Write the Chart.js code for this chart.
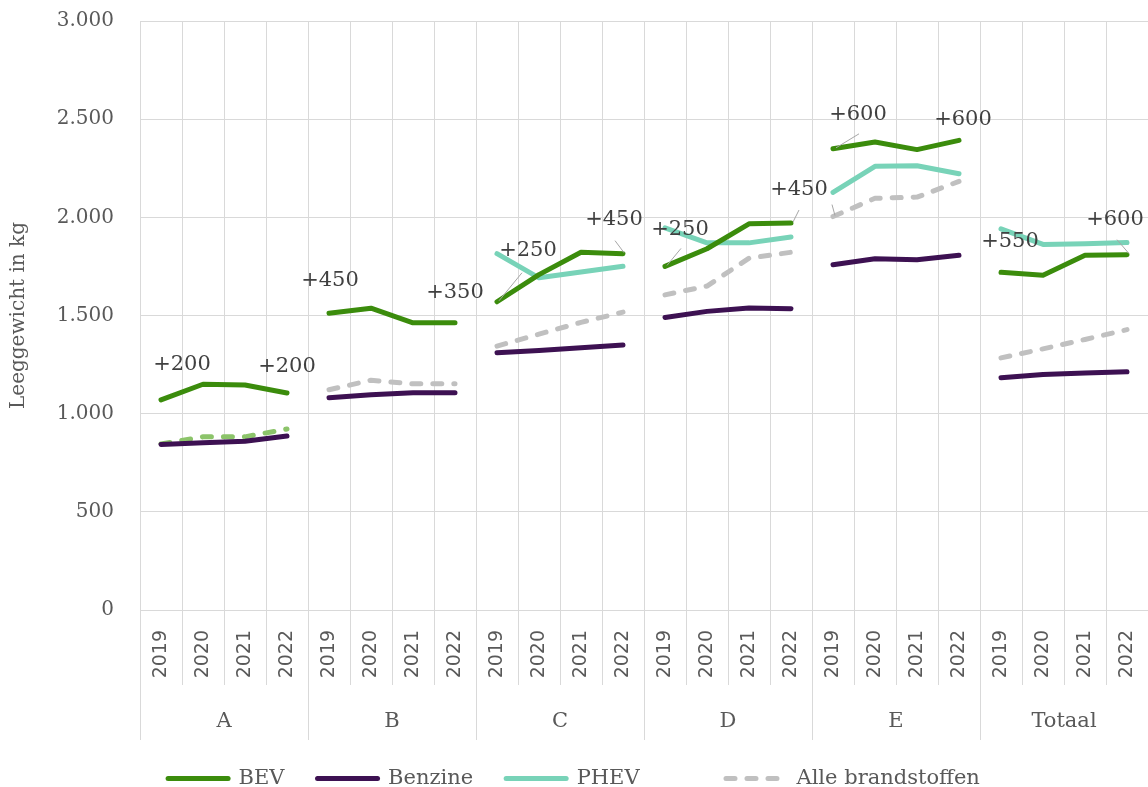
<!DOCTYPE html>
<html>
<head>
<meta charset="utf-8">
<script src="https://cdn.jsdelivr.net/npm/chart.js@4.4.1/dist/chart.umd.min.js"></script>
<style>
html,body{margin:0;padding:0;background:#fff;}
canvas{display:block;}
</style>
</head>
<body>
<canvas id="c" width="1148" height="787"></canvas>
<script>
// ---- data ----
const groups = ['A', 'B', 'C', 'D', 'E', 'Totaal'];
const years = ['2019', '2020', '2021', '2022'];

//              A                         B                         C                         D                         E                         Totaal
const bev =     [1070, 1150, 1146, 1105,  1512, 1537, 1463, 1463,  1570, 1708, 1822, 1815,  1750, 1840, 1967, 1971,  2349, 2384, 2345, 2392,  1720, 1705, 1807, 1810];
const benzine = [ 843,  852,  860,  886,  1081, 1096, 1106, 1106,  1310, 1322, 1336, 1350,  1490, 1521, 1538, 1534,  1759, 1789, 1784, 1807,  1183, 1200, 1207, 1213];
const phev =    [null, null, null, null,  null, null, null, null,  1815, 1692, 1722, 1751,  1946, 1870, 1870, 1900,  2127, 2260, 2263, 2222,  1941, 1862, 1865, 1872];
const alle =    [ 846,  882,  882,  922,  1122, 1170, 1152, 1152,  1344, 1405, 1465, 1517,  1605, 1650, 1792, 1822,  2004, 2097, 2103, 2183,  1284, 1330, 1378, 1428];

const seriesNames = ['BEV', 'Benzine', 'PHEV', 'Alle brandstoffen'];

// change labels (BEV), attached to BEV points by index
const changeTexts   = ['+200', '+200', '+450', '+350', '+250', '+450', '+250', '+450', '+600', '+600', '+550', '+600'];
const changeIndices = [0, 3, 4, 7, 8, 11, 12, 15, 16, 19, 20, 23];

// ---- styling / layout (not data) ----
const labelOffsets = [
  {dx: 21, dy: -35},
  {dx: 0, dy: -27},
  {dx: 1, dy: -33},
  {dx: 0, dy: -30},
  {dx: 31, dy: -51, leader: [25, -29, 2, -1]},
  {dx: -9, dy: -34, leader: [-8, -13, 1, -1]},
  {dx: 15, dy: -37, leader: [16, -18, 2, -1]},
  {dx: 8, dy: -33, leader: [8, -13, 2, -1]},
  {dx: 25, dy: -34, leader: [26, -15, 3, -1]},
  {dx: 4, dy: -21},
  {dx: 9, dy: -31},
  {dx: -12, dy: -35, leader: [-10, -15, 2, -1]}
];
const extraLeaders = [{ds: 3, idx: 16, leader: [-1, -12, 2, -1]}];

const colors = ['#3b8c0c', '#3d1152', '#78d3b8', '#c0c0c0'];
const alleGroupAColor = '#8cc46a';
const dashPattern = [9, 12];
// extra legend spacing after an item (Excel left a gap where a hidden entry was removed)
const legendTrailingGap = ['', '', '\u00a0'.repeat(8), ''];

const labels = groups.flatMap(() => years);
const perGroup = years.length;

Chart.defaults.font.family = '"DejaVu Serif", serif';
Chart.defaults.color = '#595959';

function breakSeg(ctx, normal) {
  if (ctx.p0DataIndex % perGroup === perGroup - 1) return 'rgba(0,0,0,0)';
  return normal;
}

function makeDataset(i, data, extra) {
  return Object.assign({
    label: seriesNames[i],
    data: data,
    borderColor: colors[i],
    backgroundColor: colors[i],
    borderWidth: 5,
    borderCapStyle: 'round',
    borderJoinStyle: 'round',
    pointRadius: 0,
    pointHoverRadius: 0,
    tension: 0,
    fill: false,
    spanGaps: false,
    segment: { borderColor: c => breakSeg(c, colors[i]) }
  }, extra || {});
}

const datasets = [
  makeDataset(0, bev),
  makeDataset(1, benzine),
  makeDataset(2, phev),
  makeDataset(3, alle, {
    borderDash: dashPattern,
    segment: {
      borderColor: c => {
        if (c.p0DataIndex % perGroup === perGroup - 1) return 'rgba(0,0,0,0)';
        return c.p0DataIndex < perGroup ? alleGroupAColor : colors[3];
      }
    }
  })
];

const legendFix = {
  id: 'legendFix',
  afterInit(chart) {
    const lg = chart.legend;
    if (!lg) return;
    const orig = lg.fit.bind(lg);
    lg.fit = function () { orig(); this.height = 52; };
  }
};

const annotPlugin = {
  id: 'annot',
  afterDatasetsDraw(chart) {
    const ctx = chart.ctx;
    const meta = chart.getDatasetMeta(0);
    ctx.save();
    ctx.strokeStyle = '#a6a6a6';
    ctx.lineWidth = 1;
    const drawLeader = (px, py, l) => {
      ctx.beginPath();
      ctx.moveTo(px + l[0], py + l[1]);
      ctx.lineTo(px + l[2], py + l[3]);
      ctx.stroke();
    };
    changeTexts.forEach((t, k) => {
      const el = meta.data[changeIndices[k]];
      const o = labelOffsets[k];
      if (o.leader) drawLeader(el.x, el.y, o.leader);
      ctx.font = '21px "DejaVu Serif"';
      ctx.fillStyle = '#404040';
      ctx.textAlign = 'center';
      ctx.textBaseline = 'middle';
      ctx.fillText(t, el.x + o.dx, el.y + o.dy);
    });
    extraLeaders.forEach(e => {
      const el = chart.getDatasetMeta(e.ds).data[e.idx];
      drawLeader(el.x, el.y, e.leader);
    });
    ctx.restore();
  }
};

const gridColor = '#d9d9d9';

new Chart(document.getElementById('c'), {
  type: 'line',
  data: { labels: labels, datasets: datasets },
  plugins: [legendFix, annotPlugin],
  options: {
    responsive: false,
    animation: false,
    devicePixelRatio: 1,
    layout: { padding: { top: 21, right: 0, left: 0, bottom: 0 } },
    plugins: {
      tooltip: { enabled: false },
      legend: {
        position: 'bottom',
        labels: {
          usePointStyle: true,
          pointStyle: 'line',
          pointStyleWidth: 60,
          padding: 33,
          color: '#595959',
          font: { family: '"DejaVu Serif"', size: 21 },
          generateLabels: chart => chart.data.datasets.map((ds, i) => ({
            text: seriesNames[i] + legendTrailingGap[i],
            fillStyle: colors[i],
            strokeStyle: colors[i],
            fontColor: '#595959',
            lineWidth: 5,
            lineCap: 'round',
            lineDash: i === 3 ? dashPattern : [],
            lineDashOffset: 0,
            pointStyle: 'line',
            hidden: false,
            datasetIndex: i
          }))
        }
      }
    },
    scales: {
      y: {
        min: 0,
        max: 3000,
        ticks: {
          stepSize: 500,
          padding: 4,
          color: '#595959',
          font: { family: '"DejaVu Serif"', size: 20 },
          callback: v => String(v).replace(/\B(?=(\d{3})+(?!\d))/g, '.')
        },
        grid: { color: gridColor, drawTicks: true, tickLength: 22, tickColor: 'rgba(0,0,0,0)', lineWidth: 1 },
        border: { display: false },
        title: {
          display: true,
          text: 'Leeggewicht in kg',
          color: '#595959',
          font: { family: '"DejaVu Serif"', size: 20 },
          padding: { top: 7, bottom: 0 }
        },
        afterFit: s => { s.width = 140; }
      },
      x: {
        type: 'category',
        position: 'bottom',
        offset: true,
        weight: 0,
        grid: { offset: true, color: gridColor, tickLength: 75, drawTicks: true, lineWidth: 1 },
        border: { color: gridColor },
        ticks: {
          autoSkip: false,
          minRotation: 90,
          maxRotation: 90,
          padding: -55,
          color: '#595959',
          font: { family: '"DejaVu Sans"', size: 19 }
        },
        afterFit: s => { s.height = 75; }
      },
      x2: {
        type: 'category',
        position: 'bottom',
        labels: groups,
        offset: true,
        weight: 1,
        grid: { offset: true, drawOnChartArea: false, color: gridColor, tickLength: 55, lineWidth: 1 },
        border: { display: false },
        ticks: {
          autoSkip: false,
          maxRotation: 0,
          padding: -31,
          color: '#595959',
          font: { family: '"DejaVu Serif"', size: 21 }
        },
        afterFit: s => { s.height = 50; }
      }
    }
  }
});
</script>
</body>
</html>
